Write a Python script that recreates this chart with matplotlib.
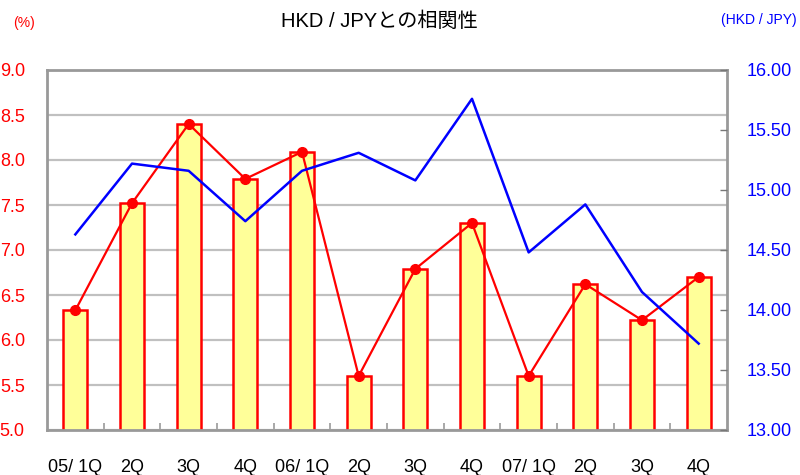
import numpy as np
import matplotlib.pyplot as plt

plt.rcParams['font.family'] = ['Liberation Sans', 'Noto Sans CJK JP', 'DejaVu Sans']

quarters = ["05/ 1Q", "2Q", "3Q", "4Q", "06/ 1Q", "2Q", "3Q", "4Q",
            "07/ 1Q", "2Q", "3Q", "4Q"]
rate_pct = [6.33, 7.52, 8.40, 7.79, 8.09, 5.60, 6.79, 7.30, 5.60, 6.62, 6.22, 6.70]
hkd_jpy = [14.63, 15.22, 15.16, 14.74, 15.16, 15.31, 15.08, 15.76, 14.48, 14.88, 14.15, 13.72]

grid_grey = "#c0c0c0"
spine_grey = "#999999"

fig = plt.figure(figsize=(8, 4.75), dpi=100)
ax = fig.add_axes([47 / 800, 45 / 475, 680 / 800, 360 / 475])
x = np.arange(len(quarters))

ax.bar(x, rate_pct, width=0.42, bottom=0, color="#ffff99", edgecolor="#ff0000",
       linewidth=1.8, zorder=2)
ax.plot(x, rate_pct, color="#ff0000", linewidth=1.6, marker="o", markersize=7, zorder=3)

ax.set_xlim(-0.5, len(quarters) - 0.5)
ax.set_ylim(5.0, 9.0)
ax.set_yticks(np.arange(5.0, 9.01, 0.5))
ax.set_yticklabels([f"{v:.1f}" for v in np.arange(5.0, 9.01, 0.5)])
ax.tick_params(axis="y", length=0, pad=16, labelsize=13, labelcolor="#ff0000")
ax.set_xticks(x)
ax.set_xticklabels(quarters)
ax.tick_params(axis="x", which="major", length=0, pad=21, labelsize=13)
ax.set_xticks(np.arange(0.5, len(quarters) - 1, 1.0), minor=True)
ax.tick_params(axis="x", which="minor", direction="in", length=5, width=1.2, color=spine_grey)
ax.grid(axis="y", color=grid_grey, linewidth=1.6)
ax.set_axisbelow(True)
for s in ax.spines.values():
    s.set_color(spine_grey)
    s.set_linewidth(2)

ax2 = ax.twinx()
ax2.plot(x, hkd_jpy, color="#0000ff", linewidth=1.8, zorder=4)
ax2.set_ylim(13.0, 16.0)
ax2.set_yticks(np.arange(13.0, 16.01, 0.5))
ax2.set_yticklabels([f"{v:.2f}" for v in np.arange(13.0, 16.01, 0.5)])
ax2.tick_params(axis="y", direction="in", length=5, width=1, color="#777777",
                pad=14, labelsize=13, labelcolor="#0000ff")
for s in ax2.spines.values():
    s.set_visible(False)

fig.text(379 / 800, 1 - 21 / 475, "HKD / JPYとの相関性", ha="center", va="center", fontsize=14.5)
fig.text(24 / 800, 1 - 23 / 475, "(%)", ha="center", va="center", fontsize=10, color="#ff0000")
fig.text(797 / 800, 1 - 20 / 475, "(HKD / JPY)", ha="right", va="center", fontsize=10,
         color="#0000ff")

fig.savefig("out.png", dpi=100)
